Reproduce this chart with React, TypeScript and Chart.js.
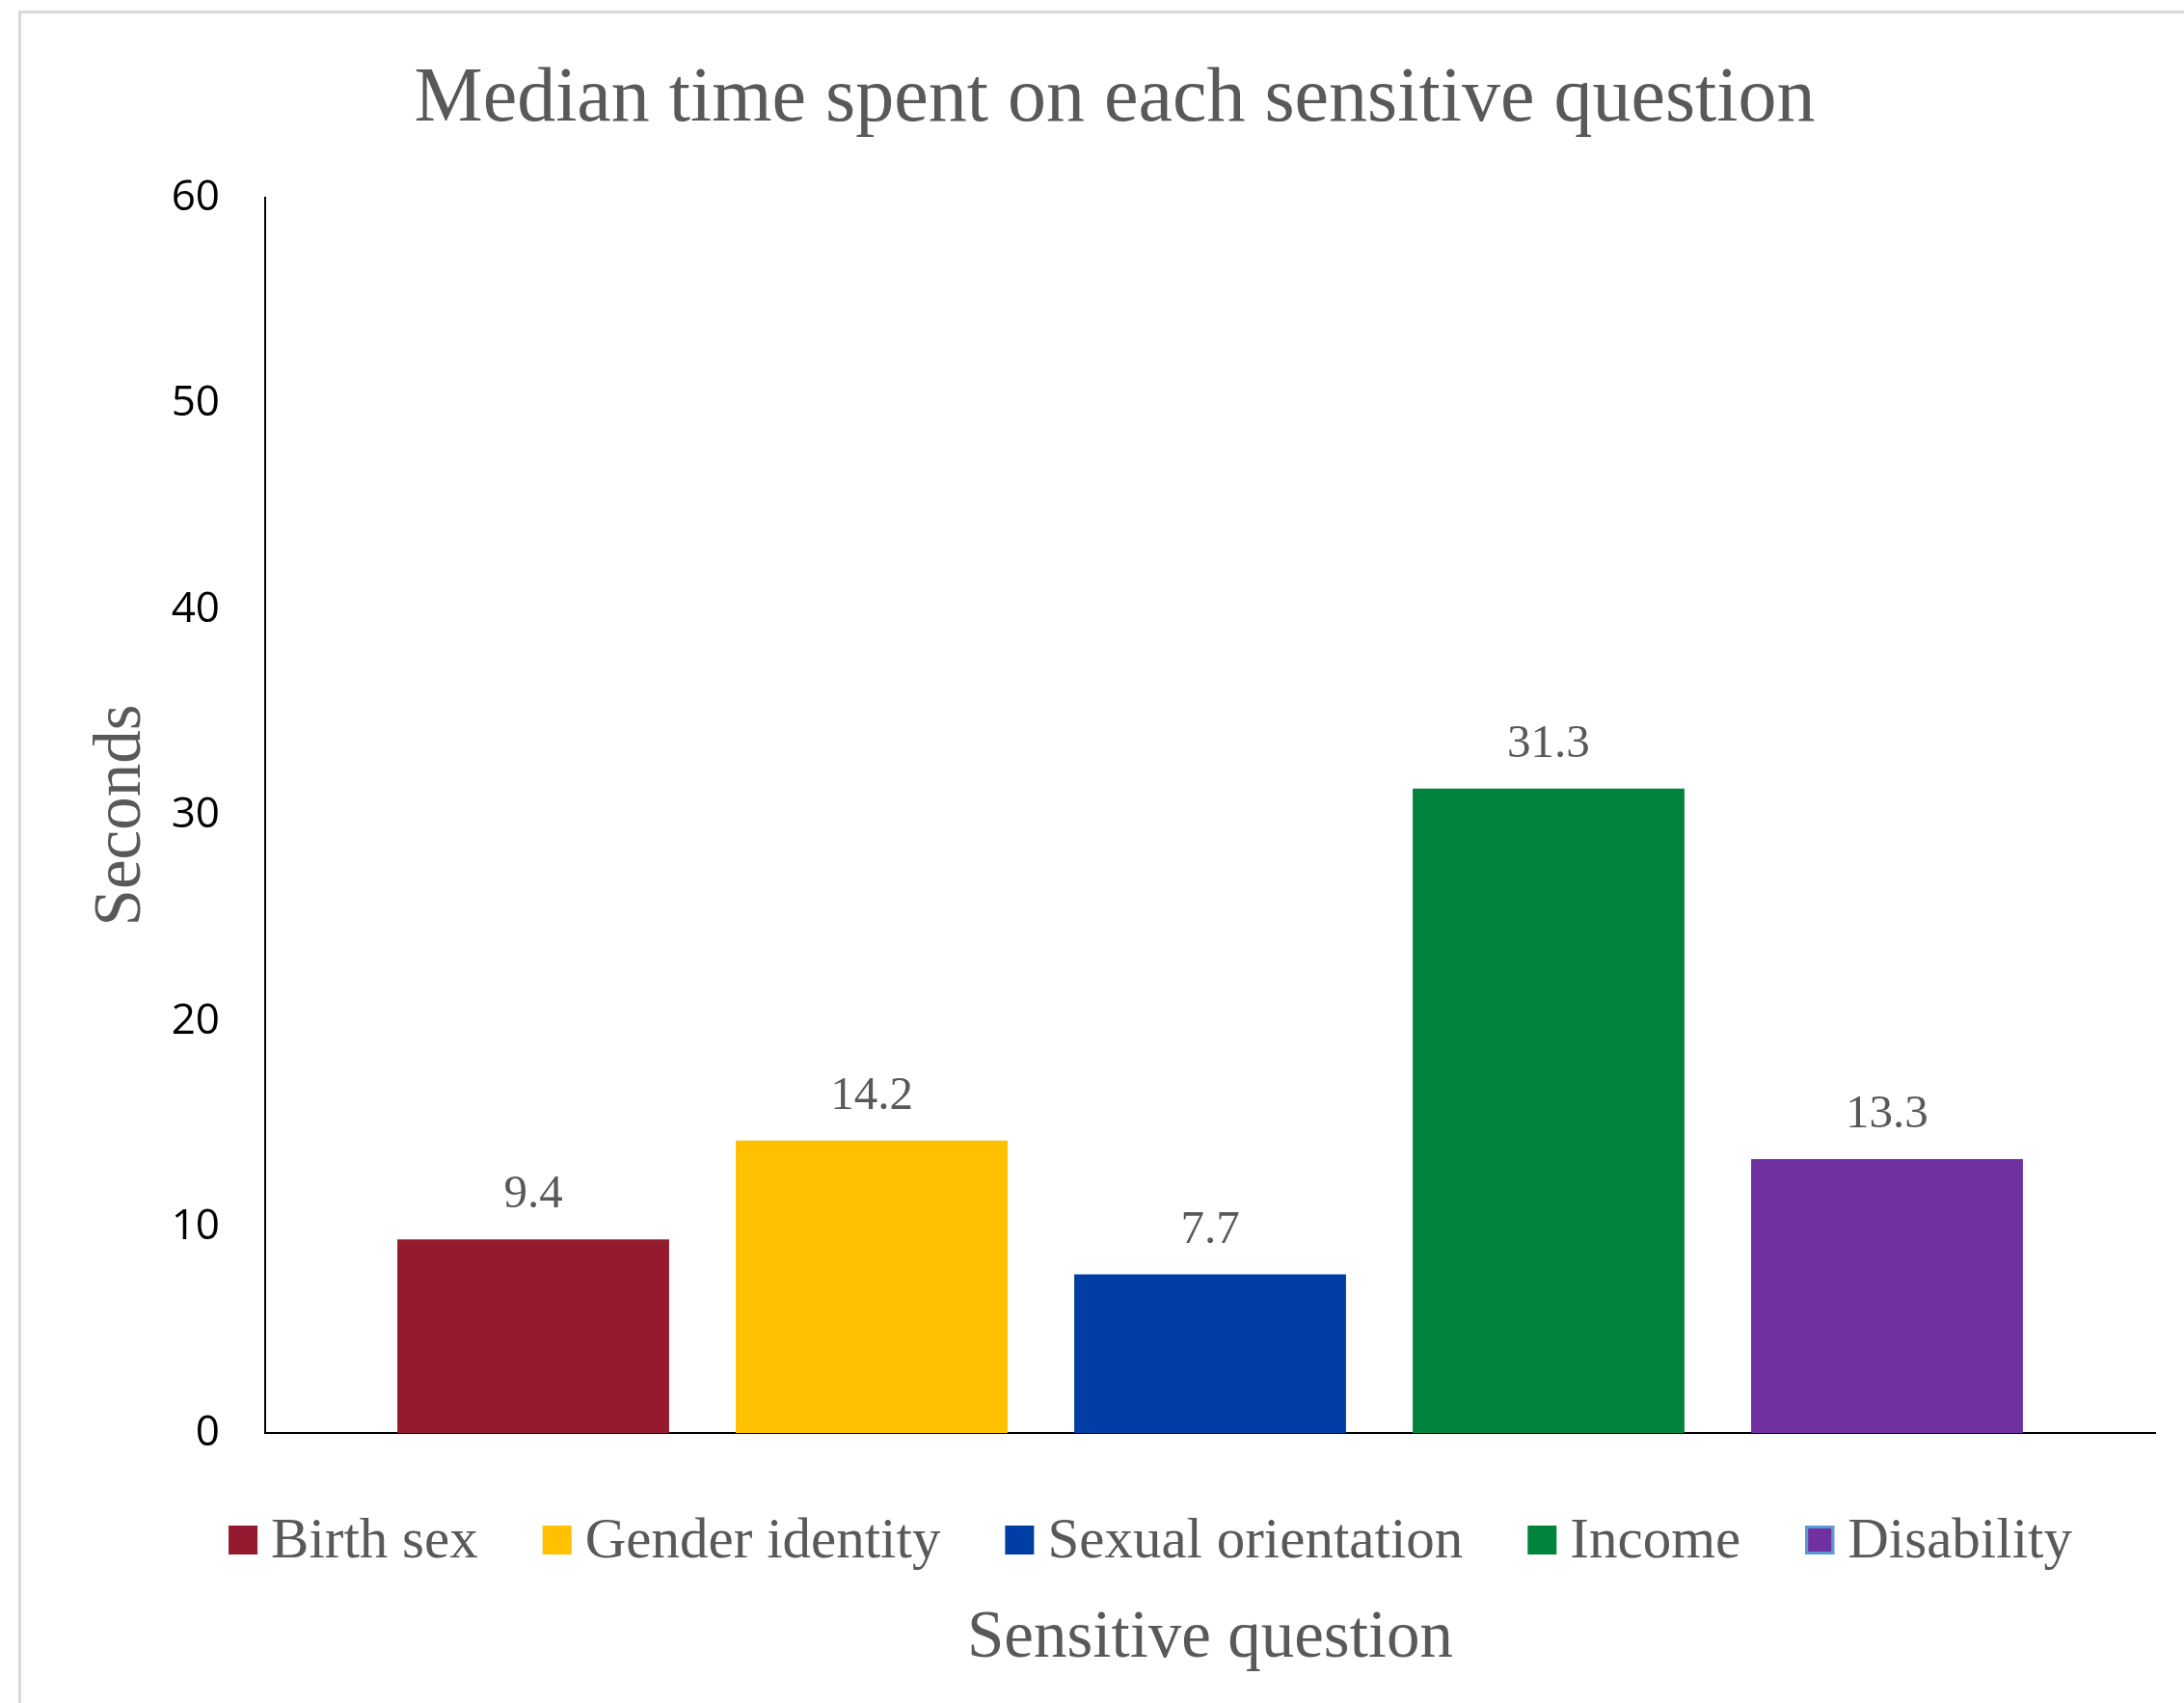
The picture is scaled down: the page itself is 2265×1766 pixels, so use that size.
import React, { useEffect, useRef } from "react";
import { Chart, registerables } from "chart.js";

Chart.register(...registerables);

// Survey questions and the median seconds respondents spent on each
const questions = ["Birth sex", "Gender identity", "Sexual orientation", "Income", "Disability"];
const medianSeconds = [9.4, 14.2, 7.7, 31.3, 13.3];
const yTicks = [0, 10, 20, 30, 40, 50, 60];

// Styling
const barColors = ["#941B2F", "#FFC000", "#003DA5", "#00843D", "#7030A0"];
const swatchOutlines: (string | null)[] = [null, null, null, null, "#5B9BD5"];
const SERIF = '"Liberation Serif", "Times New Roman", serif';
const SANS = '"Open Sans", "Noto Sans", sans-serif';
const GREY = "#595959";

// White background with the light grey chart-area frame
const framePlugin = {
  id: "frame",
  beforeDraw(chart: any) {
    const { ctx, width, height } = chart;
    ctx.save();
    ctx.fillStyle = "#ffffff";
    ctx.fillRect(0, 0, width, height);
    ctx.fillStyle = "#D9D9D9";
    ctx.fillRect(19, 11, width - 19, 3);
    ctx.fillRect(19, 11, 3, height - 11);
    ctx.restore();
  },
};

// Value printed above each bar
const valueLabelPlugin = {
  id: "valueLabels",
  afterDatasetsDraw(chart: any) {
    const { ctx } = chart;
    ctx.save();
    ctx.font = `49px ${SERIF}`;
    ctx.fillStyle = GREY;
    ctx.textAlign = "center";
    ctx.textBaseline = "alphabetic";
    chart.data.datasets.forEach((ds: any, i: number) => {
      const el = chart.getDatasetMeta(i).data[0];
      if (!el) return;
      ctx.fillText(Number(ds.data[0]).toFixed(1), el.x, el.y - 33);
    });
    ctx.restore();
  },
};

// Legend row between the axis and the x-axis title
const legendPlugin = {
  id: "swatchLegend",
  afterDraw(chart: any) {
    const { ctx, chartArea } = chart;
    const box = 30;
    const textGap = 14;
    const itemGap = 67;
    ctx.save();
    ctx.font = `59px ${SERIF}`;
    const items = chart.data.datasets.map((ds: any) => ({
      label: ds.label,
      color: ds.backgroundColor,
      width: ctx.measureText(ds.label).width,
    }));
    const total =
      items.reduce((s: number, it: any) => s + box + textGap + it.width, 0) +
      itemGap * (items.length - 1);
    const center = (chartArea.left + chartArea.right) / 2 - 62;
    let x = center - total / 2;
    const baseline = chartArea.bottom + 129;
    const boxTop = chartArea.bottom + 96;
    items.forEach((it: any, i: number) => {
      ctx.fillStyle = it.color;
      ctx.fillRect(x, boxTop, box, box);
      const outline = swatchOutlines[i];
      if (outline) {
        ctx.strokeStyle = outline;
        ctx.lineWidth = 3;
        ctx.strokeRect(x + 1.5, boxTop + 1.5, box - 3, box - 3);
      }
      ctx.fillStyle = GREY;
      ctx.textAlign = "left";
      ctx.textBaseline = "alphabetic";
      ctx.fillText(it.label, x + box + textGap, baseline);
      x += box + textGap + it.width + itemGap;
    });
    ctx.restore();
  },
};

export default function App() {
  const canvasRef = useRef<HTMLCanvasElement>(null);

  useEffect(() => {
    document.body.style.margin = "0";
    document.body.style.overflow = "hidden";
    const canvas = canvasRef.current;
    if (!canvas) return;

    const chart = new Chart(canvas, {
      type: "bar",
      data: {
        labels: [""],
        datasets: questions.map((q, i) => ({
          label: q,
          data: [medianSeconds[i]],
          backgroundColor: barColors[i],
          borderWidth: 0,
          categoryPercentage: 0.8954,
          barPercentage: 0.803,
        })),
      },
      options: {
        animation: false,
        responsive: false,
        layout: { padding: { left: 77, right: 30, top: 0, bottom: 0 } },
        plugins: {
          legend: { display: false },
          tooltip: { enabled: false },
          title: {
            display: true,
            text: "Median time spent on each sensitive question",
            color: GREY,
            font: { family: SERIF, size: 80, weight: "normal" },
            padding: { top: 56, bottom: 53 },
          },
        },
        scales: {
          x: {
            grid: { display: false, drawTicks: false },
            border: { display: true, color: "#000000", width: 2 },
            ticks: { display: false },
            title: {
              display: true,
              text: "Sensitive question",
              color: GREY,
              font: { family: SERIF, size: 69, weight: "normal" },
              padding: { top: 172.6, bottom: 24.6 },
            },
          },
          y: {
            min: 0,
            max: 60,
            afterBuildTicks: (scale: any) => {
              scale.ticks = yTicks.map((v) => ({ value: v }));
            },
            afterFit: (scale: any) => {
              scale.width = 198;
            },
            grid: { display: false, drawTicks: false },
            border: { display: true, color: "#000000", width: 2 },
            ticks: {
              color: "#000000",
              font: { family: SANS, size: 44 },
              padding: 47,
            },
            title: {
              display: true,
              text: "Seconds",
              color: GREY,
              font: { family: SERIF, size: 69, weight: "normal" },
              padding: { top: 8.6, bottom: 9.6 },
            },
          },
        },
      },
      plugins: [framePlugin, valueLabelPlugin, legendPlugin],
    });

    return () => chart.destroy();
  }, []);

  return (
    <div style={{ width: 2265, height: 1766 }}>
      <canvas ref={canvasRef} width={2265} height={1766} style={{ display: "block" }} />
    </div>
  );
}
